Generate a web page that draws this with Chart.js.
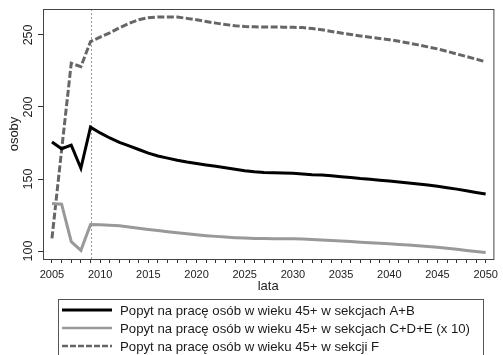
<!DOCTYPE html>
<html>
<head>
<meta charset="utf-8">
<script src="https://cdn.jsdelivr.net/npm/chart.js@4"></script>
<style>
  html, body { margin: 0; padding: 0; background: #fff; }
  #wrap { width: 503px; height: 355px; }
</style>
</head>
<body>
<div id="wrap"><canvas id="chart" width="503" height="355"></canvas></div>
<script>
const years = [];
for (let y = 2005; y <= 2050; y++) years.push(y);

const xTickLabels = [2005, 2010, 2015, 2020, 2025, 2030, 2035, 2040, 2045, 2050];
const yTickValues = [100, 150, 200, 250];
const markerYear = 2009;

const seriesNames = [
    "Popyt na pracę osób w wieku 45+ w sekcjach A+B",
    "Popyt na pracę osób w wieku 45+ w sekcjach C+D+E (x 10)",
    "Popyt na pracę osób w wieku 45+ w sekcji F",
];

// A+B
const sectorAB = [
    175.7, 171, 173.5, 157.5, 186, 182, 178.5, 175.5, 173, 170.5,
    168, 166, 164.5, 163, 161.8, 160.8, 159.8, 158.8, 157.8, 156.8,
    155.8, 155, 154.5, 154.3, 154.2, 154, 153.5, 153, 152.8, 152.3,
    151.6, 151, 150.3, 149.8, 149.2, 148.6, 148, 147.3, 146.5, 145.8,
    145, 144, 143, 141.8, 140.7, 139.6,
];
// C+D+E (x 10)
const sectorCDE = [
    133, 132.5, 106.5, 100.5, 118.5, 118.3, 118, 117.5, 116.7, 115.8,
    115, 114.2, 113.4, 112.7, 112, 111.3, 110.7, 110.2, 109.7, 109.3,
    109, 108.8, 108.7, 108.6, 108.6, 108.5, 108.3, 108, 107.7, 107.3,
    107, 106.6, 106.2, 105.8, 105.4, 105, 104.6, 104.2, 103.7, 103.2,
    102.6, 101.9, 101.2, 100.4, 99.7, 99,
];
// F
const sectorF = [
    108.8, 170, 230.3, 228, 245.4, 248.5, 251.5, 255, 258, 260.5,
    262, 262.4, 262.5, 262.4, 261.5, 260.5, 259.3, 258.2, 257.2, 256.4,
    255.8, 255.6, 255.5, 255.5, 255.4, 255.3, 255.1, 254.5, 253.6, 252.4,
    251.3, 250.3, 249.3, 248.4, 247.5, 246.7, 245.6, 244.4, 243.1, 241.7,
    240.3, 238.6, 236.8, 235, 233.2, 231.4,
];

const toPoints = (vals) => vals.map((v, i) => ({ x: years[i], y: v }));

const FONT = "'Liberation Sans', Arial, sans-serif";
// legend sample strokes (a bit thinner than the plotted lines)
const legendWidths = [3, 2.5, 2.5];

// frame around plot + dotted 2009 marker + boxed legend
const extras = {
    id: "extras",
    beforeDatasetsDraw(chart) {
        const { ctx, chartArea: a, scales } = chart;
        const x = Math.round(scales.x.getPixelForValue(markerYear)) + 0.5;
        ctx.save();
        ctx.strokeStyle = "#999";
        ctx.lineWidth = 1;
        ctx.setLineDash([2, 2]);
        ctx.beginPath();
        ctx.moveTo(x, a.top);
        ctx.lineTo(x, a.bottom);
        ctx.stroke();
        ctx.restore();
    },
    afterDraw(chart) {
        const { ctx, chartArea: a } = chart;
        ctx.save();
        ctx.strokeStyle = "#444";
        ctx.lineWidth = 1;
        ctx.strokeRect(a.left + 0.5, a.top + 0.5, a.right - a.left, a.bottom - a.top);

        // legend
        ctx.strokeStyle = "#555";
        ctx.strokeRect(58.5, 299.5, 425, 70);
        ctx.font = "13.2px " + FONT;
        ctx.textBaseline = "middle";
        ctx.fillStyle = "#1a1a1a";
        chart.data.datasets.forEach((ds, i) => {
            const y = 310 + i * 18;
            ctx.strokeStyle = ds.borderColor;
            ctx.lineWidth = legendWidths[i];
            ctx.setLineDash(ds.borderDash ? [6, 2] : []);
            ctx.beginPath();
            ctx.moveTo(62, y);
            ctx.lineTo(112, y);
            ctx.stroke();
            ctx.fillText(ds.label, 120, y + 1);
        });
        ctx.restore();
    },
};

const ctx = document.getElementById("chart").getContext("2d");
const chart = new Chart(ctx, {
    type: "line",
    data: {
        datasets: [
            {
                label: seriesNames[0],
                data: toPoints(sectorAB),
                borderColor: "#000",
                borderWidth: 3,
            },
            {
                label: seriesNames[1],
                data: toPoints(sectorCDE),
                borderColor: "#999",
                borderWidth: 3,
            },
            {
                label: seriesNames[2],
                data: toPoints(sectorF),
                borderColor: "#666",
                borderWidth: 3,
                borderDash: [7, 2.5],
            },
        ],
    },
    options: {
        responsive: false,
        animation: false,
        devicePixelRatio: 1,
        layout: { padding: { left: 0, right: 5, top: 9, bottom: 61 } },
        elements: { point: { radius: 0 }, line: { tension: 0 } },
        plugins: { legend: { display: false }, tooltip: { enabled: false } },
        scales: {
            x: {
                type: "linear",
                min: 2004.07,
                max: 2050.8,
                afterBuildTicks: (s) => { s.ticks = years.map((v) => ({ value: v })); },
                afterFit: (s) => { s.height = 35; },
                grid: { drawOnChartArea: false, tickLength: 4, color: "#333" },
                border: { color: "#222" },
                ticks: {
                    autoSkip: false,
                    maxRotation: 0,
                    padding: 5,
                    color: "#222",
                    font: { family: FONT, size: 11 },
                    callback: (v) => (xTickLabels.includes(v) ? String(v) : ""),
                },
                title: {
                    display: true,
                    text: "lata",
                    color: "#222",
                    font: { family: FONT, size: 13 },
                    padding: 0,
                },
            },
            y: {
                min: 94.5,
                max: 268,
                afterBuildTicks: (s) => { s.ticks = yTickValues.map((v) => ({ value: v })); },
                afterFit: (s) => { s.width = 43; },
                grid: { drawOnChartArea: false, tickLength: 5, color: "#333" },
                border: { color: "#222" },
                ticks: {
                    minRotation: 90,
                    maxRotation: 90,
                    crossAlign: "center",
                    padding: -1,
                    color: "#222",
                    font: { family: FONT, size: 12.5 },
                },
                title: {
                    display: true,
                    text: "osoby",
                    color: "#222",
                    font: { family: FONT, size: 13 },
                    padding: { top: 7, bottom: 0 },
                },
            },
        },
    },
    plugins: [extras],
});
</script>
</body>
</html>
